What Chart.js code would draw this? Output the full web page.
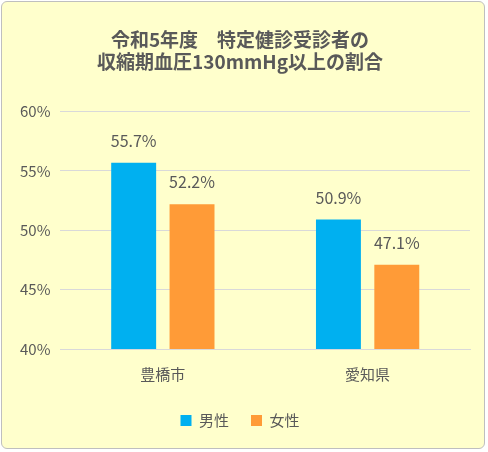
<!DOCTYPE html>
<html><head><meta charset="utf-8">
<script src="https://cdn.jsdelivr.net/npm/chart.js@4"></script>
<style>
html,body{margin:0;padding:0;background:#fff;}
#wrap{position:absolute;left:1px;top:1px;width:484px;height:448px;background:#FFFFCC;border:1px solid #BFBFBF;border-radius:6px;box-sizing:border-box;}
canvas{display:block;}
</style></head>
<body><div id="wrap"><canvas id="c"></canvas></div>
<script>
const categories = ['豊橋市', '愛知県'];
const maleValues = [55.7, 50.9];
const femaleValues = [52.2, 47.1];
const seriesNames = ['男性', '女性'];

const labelPlugin = {
    id: 'barLabels',
    afterDatasetsDraw(chart) {
        const ctx = chart.ctx;
        ctx.save();
        ctx.font = "16px 'Noto Sans CJK JP', sans-serif";
        ctx.fillStyle = '#595959';
        ctx.textAlign = 'center';
        ctx.textBaseline = 'bottom';
        chart.data.datasets.forEach(function (ds, i) {
            chart.getDatasetMeta(i).data.forEach(function (bar, j) {
                ctx.fillText(ds.data[j].toFixed(1) + '%', bar.x, bar.y - 14);
            });
        });
        ctx.restore();
    }
};

new Chart(document.getElementById('c'), {
    type: 'bar',
    data: {
        labels: categories,
        datasets: [
            { label: seriesNames[0], data: maleValues, backgroundColor: '#00B0F0' },
            { label: seriesNames[1], data: femaleValues, backgroundColor: '#FF9B37' }
        ]
    },
    options: {
        responsive: true,
        maintainAspectRatio: false,
        animation: false,
        categoryPercentage: 0.57,
        barPercentage: 0.77,
        layout: { padding: { left: 8, right: 14, top: 12, bottom: 10 } },
        scales: {
            y: {
                min: 40, max: 60,
                ticks: {
                    stepSize: 5,
                    callback: v => v + '%',
                    color: '#595959',
                    font: { size: 15, family: "'Noto Sans CJK JP', sans-serif" },
                    padding: 10
                },
                grid: { color: '#D9D9D9', drawTicks: false },
                border: { display: false }
            },
            x: {
                ticks: {
                    color: '#595959',
                    font: { size: 15, family: "'Noto Sans CJK JP', sans-serif" },
                    padding: 8
                },
                grid: { display: false },
                border: { color: '#D9D9D9' }
            }
        },
        plugins: {
            title: {
                display: true,
                text: ['令和5年度　特定健診受診者の', '収縮期血圧130mmHg以上の割合'],
                color: '#595959',
                font: { size: 19, weight: 'bold', family: "'Noto Sans CJK JP', sans-serif" },
                padding: { top: 14, bottom: 38 },
                lineHeight: 1.85
            },
            legend: {
                position: 'bottom',
                labels: {
                    boxWidth: 11, boxHeight: 11,
                    color: '#595959',
                    font: { size: 15, family: "'Noto Sans CJK JP', sans-serif" },
                    padding: 22
                }
            },
            tooltip: { enabled: false }
        }
    },
    plugins: [labelPlugin]
});
</script></body></html>
